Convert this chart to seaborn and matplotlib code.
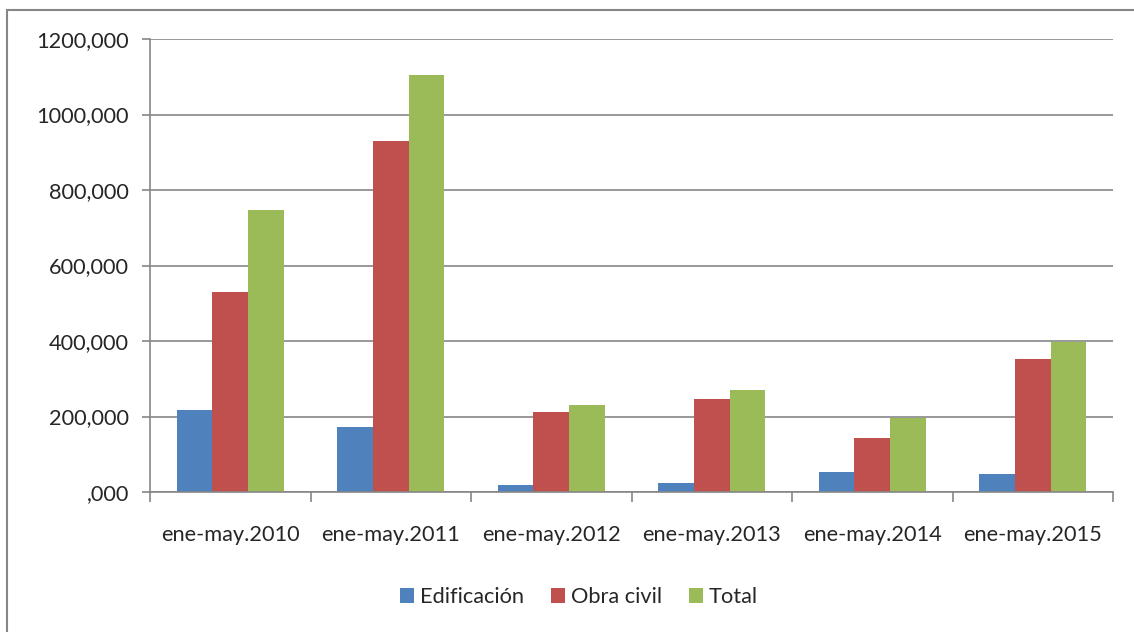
import pandas as pd
import seaborn as sns
import matplotlib.pyplot as plt
from matplotlib.ticker import FuncFormatter, FixedLocator
from matplotlib.patches import Rectangle

periods = ['ene-may.2010', 'ene-may.2011', 'ene-may.2012',
           'ene-may.2013', 'ene-may.2014', 'ene-may.2015']
edificacion = [218, 173, 18, 24, 53, 48]
obra_civil = [530, 931, 212, 247, 143, 351]
total = [748, 1105, 231, 271, 197, 398]

series = ['Edificación', 'Obra civil', 'Total']
colors = ['#4f81bd', '#c0504d', '#9bbb59']

df = pd.DataFrame({
    'periodo': periods * 3,
    'serie': [s for s in series for _ in periods],
    'valor': edificacion + obra_civil + total,
})

sns.set_style('white')
plt.rcParams['font.family'] = ['Lato', 'DejaVu Sans']
grid_col = '#868686'
fs = 15.7

fig = plt.figure(figsize=(11.34, 6.32), dpi=100)
ax = fig.add_axes([150 / 1134, 1 - 492 / 632, (1113 - 150) / 1134, (492 - 39) / 632])

sns.barplot(data=df, x='periodo', y='valor', hue='serie', palette=colors,
            width=0.667, saturation=1, ax=ax, edgecolor='none')

ax.set_ylim(0, 1200)
ax.set_xlim(-0.5, 5.5)
ax.set_yticks(range(0, 1201, 200))
ax.yaxis.set_major_formatter(FuncFormatter(lambda v, p: f'{int(v)},000' if v else ',000'))
ax.grid(axis='y', color=grid_col, lw=1.2)
ax.set_axisbelow(True)
for s in ['top', 'right']:
    ax.spines[s].set_visible(False)
for s in ['left', 'bottom']:
    ax.spines[s].set_color(grid_col)
    ax.spines[s].set_linewidth(1.2)

ax.tick_params(axis='y', length=6, color=grid_col, width=1.2, labelsize=fs, pad=9, left=True)
ax.tick_params(axis='x', which='major', length=0, labelsize=fs, pad=24)
ax.xaxis.set_minor_locator(FixedLocator([i - 0.5 for i in range(len(periods) + 1)]))
ax.tick_params(axis='x', which='minor', length=7, color=grid_col, width=1.2, bottom=True)
ax.set_xlabel('')
ax.set_ylabel('')

ax.legend(loc='center', bbox_to_anchor=(579 / 1134, (632 - 597) / 632), bbox_transform=fig.transFigure,
          ncol=3, frameon=False, fontsize=fs, handlelength=0.65, handleheight=0.65,
          handletextpad=0.25, columnspacing=1.25)

fig.patches.append(Rectangle((7 / 1134, -0.1), 1.2, 1 - 10 / 632 + 0.1, transform=fig.transFigure,
                             fill=False, edgecolor=grid_col, lw=1.5))

fig.savefig('out.png', dpi=100)
